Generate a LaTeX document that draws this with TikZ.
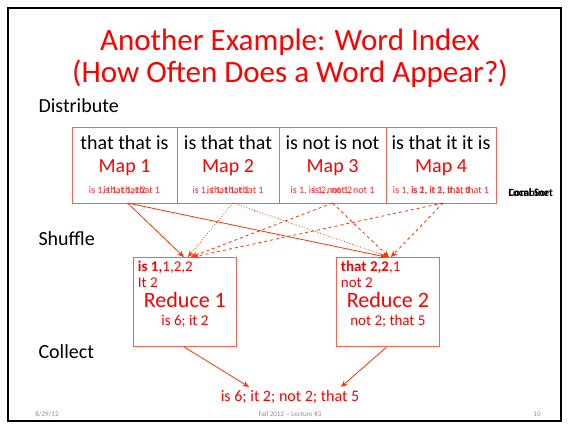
\documentclass[tikz,border=0pt]{standalone}
\usepackage{fontspec}
\setmainfont{Carlito}
\definecolor{slidered}{RGB}{255,0,0}
\definecolor{boxred}{RGB}{255,95,75}
\definecolor{arrowred}{RGB}{255,51,0}
\definecolor{footgray}{RGB}{140,140,140}
\usetikzlibrary{arrows.meta,positioning}

\begin{document}
\begin{tikzpicture}[x=1pt,y=-1pt,
  mapbox/.style={draw=boxred,line width=0.8pt,minimum height=76,inner sep=1pt,outer sep=0pt,
    align=center,font=\fontsize{20}{23}\selectfont},
  redbox/.style={draw=boxred,line width=0.8pt,minimum width=103,minimum height=89,inner sep=2pt,
    anchor=north west,align=center,text=slidered,font=\fontsize{15}{16}\selectfont},
  steplabel/.style={anchor=west,font=\fontsize{20}{23}\selectfont},
  flow/.style={arrowred,line width=0.8pt,-{Stealth[length=6.5pt,width=5.5pt]}}
]
  \useasboundingbox (0,0) rectangle (569,429);
  \draw[line width=1.6pt] (8,8) rectangle (561,421);

  % Title
  \node[align=center,text=slidered,font=\fontsize{31}{32}\selectfont] (title) at (290,58)
    {Another Example: Word Index\\(How Often Does a Word Appear?)};

  % Phases
  \node[steplabel] (dist) at (35,106) {Distribute};
  \node[steplabel] (shuf) at (35,239) {Shuffle};
  \node[steplabel] (coll) at (35,352) {Collect};

  % Map tasks
  \node[mapbox,minimum width=105,anchor=north west] (m1) at (72,127) {
    that that is\\{\color{slidered}Map 1}\\[-2pt]
    {\fontsize{10}{11}\selectfont\color{slidered!85}\makebox[0pt]{is 1, that 1, that 1}\makebox[0pt]{is 1, that 2}}};
  \node[mapbox,minimum width=102,right=0pt of m1] (m2) {
    is that that\\{\color{slidered}Map 2}\\[-2pt]
    {\fontsize{10}{11}\selectfont\color{slidered!85}\makebox[0pt]{is 1, that 1, that 1}\makebox[0pt]{is 1, that 2}}};
  \node[mapbox,minimum width=107,right=0pt of m2] (m3) {
    is not is not\\{\color{slidered}Map 3}\\[-2pt]
    {\fontsize{10}{11}\selectfont\color{slidered!85}\makebox[0pt]{is 1, is 1, not 1, not 1}\makebox[0pt]{is 2, not 2}}};
  \node[mapbox,minimum width=110,right=0pt of m3] (m4) {
    is that it it is\\{\color{slidered}Map 4}\\[-2pt]
    {\fontsize{10}{11}\selectfont\color{slidered!85}\makebox[0pt]{is 1, is 1, it 1, it 1, that 1}\makebox[0pt]{is 2, it 2, that 1}}};

  % Combine / Local Sort (overlaid)
  \node[anchor=west,font=\fontsize{11}{12}\selectfont\bfseries] (comb) at (505,193) {Combine};
  \node[anchor=west,font=\fontsize{11}{12}\selectfont\bfseries] (lsort) at (505,193) {Local Sort};

  % Reduce tasks
  \node[redbox] (r1) at (133,257) {
    \makebox[94pt][l]{\textbf{is 1,}1,2,2}\\
    \makebox[94pt][l]{It 2}\\[4pt]
    {\fontsize{22}{20}\selectfont Reduce 1}\\[2pt]
    is 6; it 2\rule[-18pt]{0pt}{18pt}};
  \node[redbox] (r2) at (336,257) {
    \makebox[94pt][l]{\textbf{that 2,2},1}\\
    \makebox[94pt][l]{not 2}\\[4pt]
    {\fontsize{22}{20}\selectfont Reduce 2}\\[2pt]
    not 2; that 5\rule[-18pt]{0pt}{18pt}};

  % Result
  \node[text=slidered,font=\fontsize{16}{18}\selectfont] (fin) at (290,397) {is 6; it 2; not 2; that 5};

  % Shuffle connectors
  \draw[flow] ([xshift=3]m1.south) -- ([xshift=-1]r1.north);
  \draw[flow] ([xshift=3]m1.south) -- ([xshift=-2]r2.north);
  \draw[flow,dotted] ([xshift=5]m2.south) -- ([xshift=3]r1.north);
  \draw[flow,dotted] ([xshift=5]m2.south) -- ([xshift=1]r2.north);
  \draw[flow,dashed] (m3.south) -- ([xshift=6]r1.north);
  \draw[flow,dashed] (m3.south) -- ([xshift=1]r2.north);
  \draw[flow,dashed] ([xshift=2]m4.south) -- ([xshift=8]r1.north);
  \draw[flow,dashed] ([xshift=2]m4.south) -- ([xshift=3]r2.north);

  % Collect connectors
  \draw[flow] ([xshift=-1]r1.south) -- ([xshift=-41]fin.north);
  \draw[flow] ([xshift=-1]r2.south) -- ([xshift=51]fin.north);

  % Footer
  \node[text=footgray,font=\fontsize{7}{8}\selectfont] (date) at (47,414) {8/29/12};
  \node[text=footgray,font=\fontsize{7}{8}\selectfont] (lect) at (290,414) {Fall 2012 {-}{-} Lecture \#3};
  \node[text=footgray,font=\fontsize{7}{8}\selectfont] (pnum) at (537,414) {10};
\end{tikzpicture}
\end{document}
